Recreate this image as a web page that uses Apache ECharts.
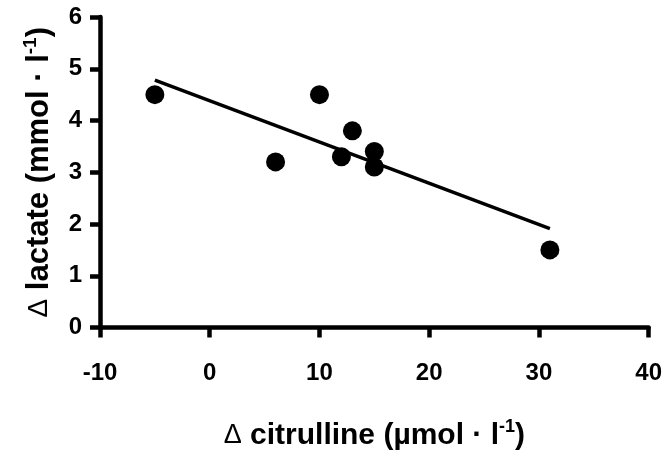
<!DOCTYPE html>
<html lang="en">
<head>
    <meta charset="UTF-8">
    <title>lactate vs citrulline</title>
    <script src="https://cdn.jsdelivr.net/npm/echarts@6/dist/echarts.min.js"></script>
    <style>
        html, body { margin: 0; padding: 0; background: #fff; }
        #chart { width: 665px; height: 456px; }
    </style>
</head>
<body>
<div id="chart"></div>

<script type="text/javascript">
    // delta citrulline (x) and delta lactate (y)
    var citrulline = [-5, 6, 10, 12, 13, 15, 15, 31];
    var lactate = [4.5, 3.2, 4.5, 3.3, 3.8, 3.4, 3.1, 1.5];
    // regression line ends
    var fitX = [-5, 31];
    var fitY = [4.78, 1.91];
    var xTicks = [-10, 0, 10, 20, 30, 40];
    var yTicks = [0, 1, 2, 3, 4, 5, 6];

    var font = "'Liberation Sans', Arial, sans-serif";

    var points = citrulline.map(function (x, i) { return [x, lactate[i]]; });
    var fit = fitX.map(function (x, i) { return [x, fitY[i]]; });

    function nameStyle(size) {
        return {
            color: '#000', fontFamily: font, fontWeight: 'bold', fontSize: size,
            rich: {
                d: { fontFamily: font, fontSize: size - 3, fontWeight: 'normal', color: '#000' },
                sup: { fontFamily: font, fontSize: Math.round(size * 0.6), fontWeight: 'bold', color: '#000', padding: [0, 0, Math.round(size * 0.55), 0] }
            }
        };
    }

    var axisCommon = {
        axisLine: { show: true, onZero: false, lineStyle: { color: '#000', width: 4.5 } },
        axisTick: { show: true, inside: false, length: 10, lineStyle: { color: '#000', width: 4.5 } },
        splitLine: { show: false }
    };

    var myChart = echarts.init(document.getElementById('chart'), null, { renderer: 'canvas' });
    var option = {
        animation: false,
        backgroundColor: '#fff',
        grid: { left: 100, right: 15, top: 17, bottom: 123 },
        xAxis: Object.assign({}, axisCommon, {
            type: 'value',
            min: xTicks[0],
            max: xTicks[xTicks.length - 1],
            interval: 10,
            name: '{d|Δ} citrulline (µmol · l{sup|-1})',
            nameLocation: 'middle',
            nameGap: 91,
            nameTextStyle: nameStyle(30),
            axisLabel: { color: '#000', fontFamily: font, fontWeight: 'bold', fontSize: 24, margin: 34 }
        }),
        yAxis: Object.assign({}, axisCommon, {
            type: 'value',
            min: yTicks[0],
            max: yTicks[yTicks.length - 1],
            interval: 1,
            name: '{d|Δ} lactate (mmol · l{sup|-1})',
            nameLocation: 'middle',
            nameGap: 43,
            nameTextStyle: nameStyle(31),
            axisLabel: { color: '#000', fontFamily: font, fontWeight: 'bold', fontSize: 24, margin: 18 }
        }),
        series: [
            {
                type: 'line',
                data: fit,
                showSymbol: false,
                symbol: 'none',
                lineStyle: { color: '#000', width: 3.5 },
                z: 2
            },
            {
                type: 'scatter',
                data: points,
                symbol: 'circle',
                symbolSize: 19,
                itemStyle: { color: '#000', opacity: 1 },
                z: 3
            }
        ]
    };
    myChart.setOption(option);
</script>
</body>
</html>
